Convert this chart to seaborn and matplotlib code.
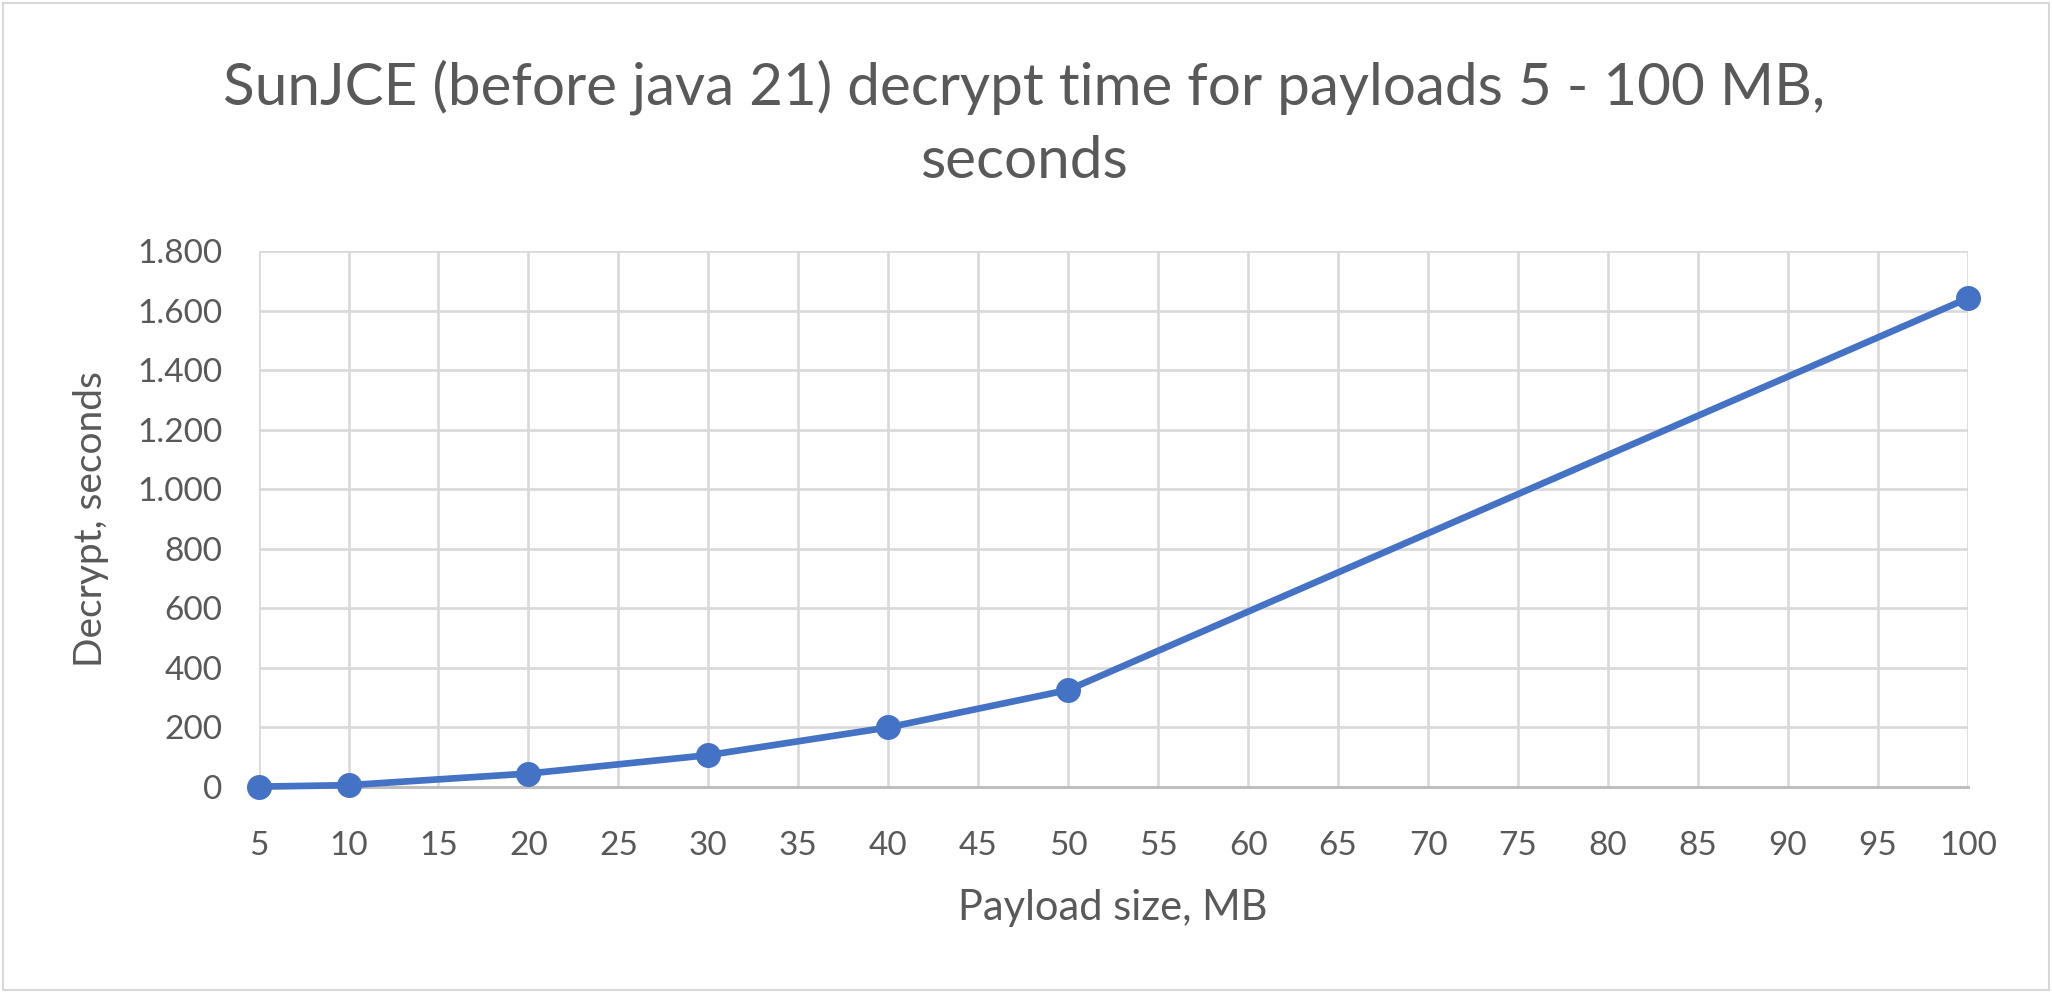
import seaborn as sns
import matplotlib.pyplot as plt
import matplotlib.ticker as mticker
import pandas as pd

# Payload sizes (MB) and decrypt time (seconds)
payload_mb = [5, 10, 20, 30, 40, 50, 100]
decrypt_s = [1, 6, 45, 107, 200, 326, 1642]

x_ticks = list(range(5, 101, 5))
y_ticks = list(range(0, 1801, 200))

df = pd.DataFrame({"Payload size, MB": payload_mb, "Decrypt, seconds": decrypt_s})

sns.set_style("white")
plt.rcParams["font.family"] = ["Lato", "DejaVu Sans"]

text_color = "#595959"
line_color = "#4472C4"
grid_color = "#D9D9D9"

fig = plt.figure(figsize=(20.52, 9.93), dpi=100)
ax = fig.add_axes([0.126, 0.2075, 0.833, 0.5395])

sns.lineplot(
    data=df,
    x="Payload size, MB",
    y="Decrypt, seconds",
    marker="o",
    markersize=18,
    markeredgewidth=0,
    linewidth=4.8,
    color=line_color,
    ax=ax,
    clip_on=False,
    zorder=3,
)

ax.set_xlim(5, 100)
ax.set_ylim(0, 1800)
ax.set_xticks(x_ticks)
ax.set_yticks(y_ticks)
ax.yaxis.set_major_formatter(
    mticker.FuncFormatter(lambda v, p: f"{v:,.0f}".replace(",", "."))
)

ax.grid(True, color=grid_color, linewidth=1.9)
ax.set_axisbelow(True)
for side in ["top", "right", "left"]:
    ax.spines[side].set_visible(False)
ax.spines["bottom"].set_color("#BFBFBF")
ax.spines["bottom"].set_linewidth(2.2)

ax.tick_params(axis="x", length=0, pad=32, labelsize=24, labelcolor=text_color)
ax.tick_params(axis="y", length=0, pad=26, labelsize=24, labelcolor=text_color)

ax.set_xlabel("Payload size, MB", fontsize=30, color=text_color, labelpad=20)
ax.set_ylabel("Decrypt, seconds", fontsize=28, color=text_color, labelpad=20)

fig.suptitle(
    "SunJCE (before java 21) decrypt time for payloads 5 - 100 MB,\nseconds",
    fontsize=42,
    color=text_color,
    x=0.499,
    y=0.94,
    va="top",
    linespacing=1.45,
)

# light chart-area border like the original
fig.patches.append(
    plt.Rectangle((0.0015, 0.003), 0.997, 0.994, transform=fig.transFigure,
                  fill=False, edgecolor="#D9D9D9", linewidth=1.5)
)

plt.savefig("out.png", dpi=100)
